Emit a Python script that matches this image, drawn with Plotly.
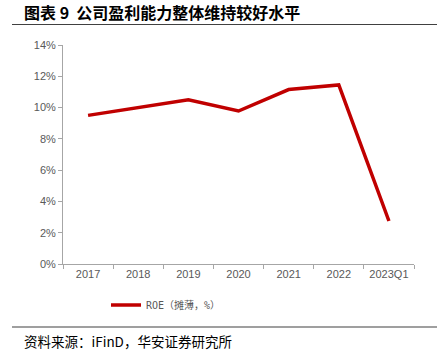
import plotly.graph_objects as go

categories = ["2017", "2018", "2019", "2020", "2021", "2022", "2023Q1"]
roe = [9.5, 10.0, 10.5, 9.78, 11.15, 11.45, 2.75]
y_ticks = [0, 2, 4, 6, 8, 10, 12, 14]
y_tick_labels = [f"{v}%" for v in y_ticks]

W, H = 437, 352
L, R, T, B = 63, 23, 45, 88
pw = W - L - R
ph = H - T - B

def px(x):
    return (x - L) / pw

def py(y):
    return (H - B - y) / ph

fig = go.Figure()
fig.add_trace(go.Scatter(
    x=categories, y=roe, mode="lines",
    line=dict(color="#C00000", width=3.5),
    name="ROE（摊薄，%）",
))

grey = "#595959"
fig.update_layout(
    width=W, height=H,
    margin=dict(l=L, r=R, t=T, b=B),
    paper_bgcolor="white", plot_bgcolor="white",
    font=dict(family="Liberation Sans, Arial, sans-serif", size=11, color=grey),
    showlegend=True,
    legend=dict(orientation="h", x=px(106), xanchor="left", y=py(305), yanchor="middle",
                font=dict(size=10, color=grey, family="DejaVu Sans Mono, Noto Sans CJK SC, monospace"),
                itemwidth=30),
    xaxis=dict(type="category", range=[-0.5, 6.5], showline=True, linecolor="#A6A6A6",
               linewidth=1, ticks="outside", tickson="boundaries", ticklen=4,
               tickcolor="#A6A6A6", showgrid=False, tickfont=dict(size=11, color=grey)),
    yaxis=dict(range=[0, 14], tickvals=y_ticks, ticktext=y_tick_labels, showline=True,
               linecolor="#A6A6A6", linewidth=1, ticks="outside", ticklen=4,
               tickcolor="#A6A6A6", showgrid=False, zeroline=False,
               tickfont=dict(size=11, color=grey)),
    shapes=[
        dict(type="line", xref="paper", yref="paper", x0=px(12), x1=px(437),
             y0=py(24.5), y1=py(24.5), line=dict(color="#404040", width=1.2)),
        dict(type="line", xref="paper", yref="paper", x0=px(12), x1=px(437),
             y0=py(327), y1=py(327), line=dict(color="#404040", width=1.2)),
    ],
    annotations=[
        dict(text="<b>图表 9  公司盈利能力整体维持较好水平</b>", xref="paper", yref="paper",
             x=px(22), y=py(12), xanchor="left", yanchor="middle", showarrow=False,
             font=dict(size=16, color="#000000", family="Noto Sans CJK SC")),
        dict(text="资料来源：iFinD，华安证券研究所", xref="paper", yref="paper",
             x=px(22), y=py(341), xanchor="left", yanchor="middle", showarrow=False,
             font=dict(size=13.5, color="#000000", family="Noto Sans CJK SC")),
    ],
)

fig.write_html("out.html")
